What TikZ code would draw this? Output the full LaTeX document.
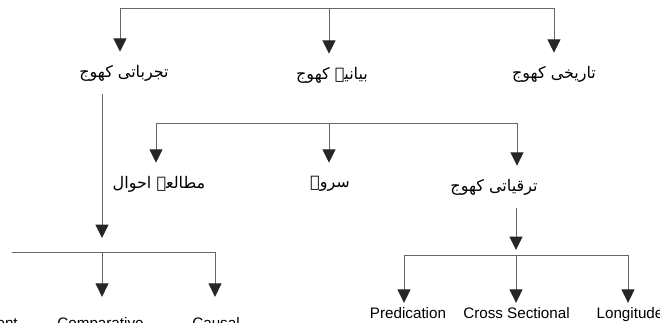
\documentclass[tikz,border=0pt]{standalone}
\usepackage{fontspec}
\setmainfont{Liberation Sans}
\newfontfamily\arabicfont[Script=Arabic]{DejaVu Sans}
\TeXXeTstate=1
\usepackage{tikz}
\usetikzlibrary{arrows.meta}
\usetikzlibrary{calc}
\newcommand{\unode}[3]{\node(#1)[urdu] at (#2) {#3}}
\newcommand{\enode}[3]{\node(#1)[item] at (#2) {#3}}

\begin{document}
\begin{tikzpicture}[
        x=0.75pt, y=-0.75pt,
        urdu/.style={font=\arabicfont\fontsize{12}{15}\selectfont,
                     inner sep=0pt, minimum height=31.5pt},
        item/.style={font=\fontsize{11.4}{13}\selectfont,
                     inner sep=0pt, text height=8.2pt, anchor=base},
        link/.style={draw=black!60, line width=0.7pt},
        arr/.style={link, -{Triangle[width=9.75pt,length=10pt,color=black!85]}}
      ]
      \useasboundingbox (0,0) rectangle (660,323);
      \clip (0,0) rectangle (660,323);

      \unode{tajrib}{124,73}{\beginR تجرباتی کھوج\endR};
      \unode{bayan}{332,75}{\beginR بیانیہ کھوج\endR};
      \unode{tarikh}{554,74}{\beginR تاریخی کھوج\endR};
      \unode{mutala}{159,184}{\beginR مطالعہ احوال\endR};
      \unode{survey}{330,184}{\beginR سروے\endR};
      \unode{taraqi}{494,187}{\beginR ترقیاتی کھوج\endR};

      \node(expt)[item, anchor=base east] at (18,329) {Experiment};
      \enode{comp}{100.5,329}{Comparative};
      \enode{causal}{216,329}{Causal};
      \enode{pred}{408,319}{Predication};
      \enode{cross}{516.5,319}{Cross Sectional};
      \enode{longi}{630,319}{Longitude};

      \coordinate (t1) at (120,8);
      \coordinate (t2) at (329,8);
      \coordinate (t3) at (554,8);
      \coordinate (m1) at (156,123);
      \coordinate (m2) at (329,123);
      \coordinate (m3) at (517,123);
      \coordinate (b0) at (12,252);
      \coordinate (b1) at (102,252);
      \coordinate (b2) at (215,252);
      \coordinate (r1) at (404,255);
      \coordinate (r2) at (516,255);
      \coordinate (r3) at (628,255);

      \draw[link] (t1) -- (t3);
      \draw[arr] (t1) -- (t1 |- tajrib.north);
      \draw[arr] (t2) -- (t2 |- bayan.north);
      \draw[arr] (t3) -- (t3 |- tarikh.north);

      \draw[link] (m1) -- (m3);
      \draw[arr] (m1) -- (m1 |- mutala.north);
      \draw[arr] (m2) -- (m2 |- survey.north);
      \draw[arr] (m3) -- (m3 |- taraqi.north);

      \draw[arr, shorten >=10.5pt] (tajrib.south -| b1) -- (b1);
      \draw[link] (b0) -- (b2);
      \draw[arr, shorten >=15.75pt] (b1) -- (b1 |- comp.north);
      \draw[arr, shorten >=15.75pt] (b2) -- (b2 |- causal.north);

      \draw[arr, shorten >=3.75pt] (taraqi.south -| r2) -- (r2);
      \draw[link] (r1) -- (r3);
      \draw[arr, shorten >=3.75pt] (r1) -- (r1 |- pred.north);
      \draw[arr, shorten >=3.75pt] (r2) -- (r2 |- cross.north);
      \draw[arr, shorten >=3.75pt] (r3) -- (r3 |- longi.north);
    \end{tikzpicture}
\end{document}
